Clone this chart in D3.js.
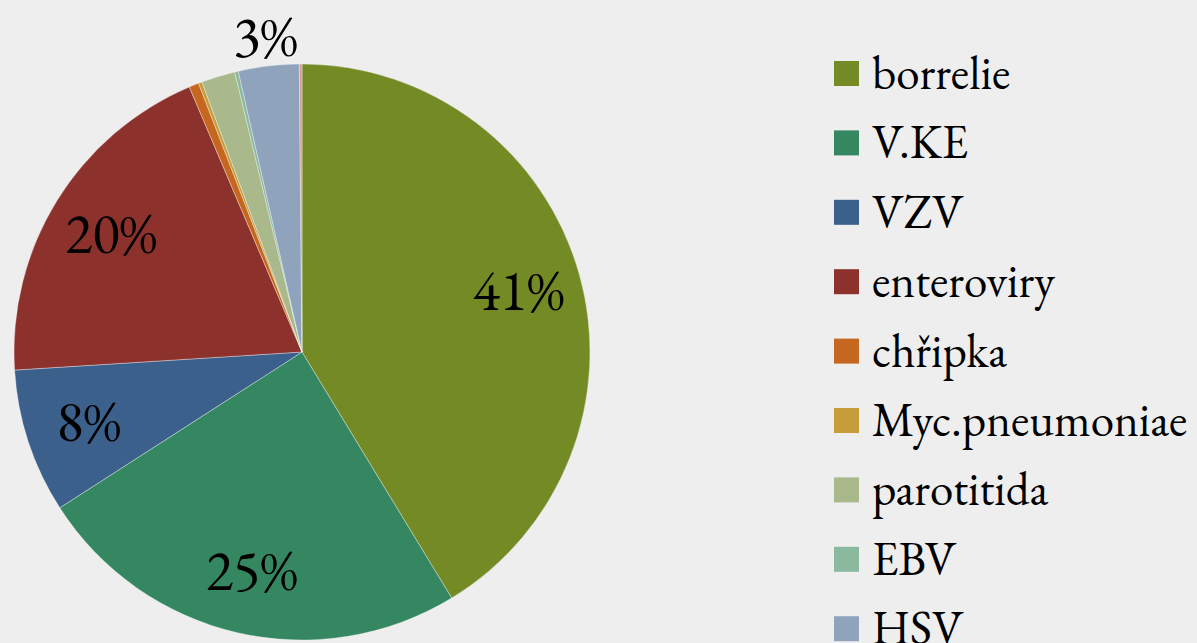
<!DOCTYPE html>
<html>
<head>
    <meta charset="utf-8">
    <title>Pie chart</title>
    <script src="https://cdn.jsdelivr.net/npm/d3@7/dist/d3.min.js"></script>
    <style>
        html, body { margin: 0; padding: 0; background: #eeeeee; }
        svg { display: block; }
    </style>
</head>
<body>
    <div id="container"></div>
    <script>
        // data (percent of total)
        var categories = ["borrelie", "V.KE", "VZV", "enteroviry", "chřipka", "Myc.pneumoniae",
            "parotitida", "EBV", "HSV", "ostatní"];
        var values = [41.3, 24.6, 8.1, 19.6, 0.55, 0.2, 1.9, 0.2, 3.4, 0.15];
        var colors = ["#748a25", "#358761", "#3b608b", "#8c312c", "#c5671f", "#c79d3b",
            "#aab98b", "#8ab9a0", "#8fa3bd", "#d99a98"];
        // which slices carry a label, and whether it sits outside
        var labelShown = [true, true, true, true, false, false, false, false, true, false];
        var labelOutside = [false, false, false, false, false, false, false, false, true, false];

        var width = 1197, height = 643;
        var cx = 302, cy = 352, radius = 288;
        var serif = "'EB Garamond'";

        var svg = d3.select("#container")
            .append("svg")
            .attr("width", width)
            .attr("height", height);

        var data = categories.map(function (c, i) {
            return { name: c, value: values[i], color: colors[i], show: labelShown[i], outside: labelOutside[i] };
        });

        var pie = d3.pie()
            .sort(null)
            .value(function (d) { return d.value; });

        var arc = d3.arc()
            .innerRadius(0)
            .outerRadius(radius);

        var arcs = pie(data);
        var total = d3.sum(values);

        var g = svg.append("g")
            .attr("transform", "translate(" + cx + "," + cy + ")");

        g.selectAll("path")
            .data(arcs)
            .enter()
            .append("path")
            .attr("d", arc)
            .attr("fill", function (d) { return d.data.color; })
            .attr("stroke", "rgba(255,255,255,0.5)")
            .attr("stroke-width", 0.7);

        // labels
        var inArc = d3.arc().innerRadius(radius * 0.78).outerRadius(radius * 0.78);
        var outArc = d3.arc().innerRadius(radius * 1.1).outerRadius(radius * 1.1);

        g.selectAll("text.lbl")
            .data(arcs.filter(function (d) { return d.data.show; }))
            .enter()
            .append("text")
            .attr("class", "lbl")
            .attr("transform", function (d) {
                var p = (d.data.outside ? outArc : inArc).centroid(d);
                return "translate(" + p[0] + "," + p[1] + ")";
            })
            .attr("text-anchor", "middle")
            .attr("dy", "0.33em")
            .style("font-family", serif)
            .style("font-size", "57px")
            .text(function (d) { return Math.round(d.data.value / total * 100) + "%"; });

        // legend (the 10th entry falls below the visible area, as in the original)
        var legY = d3.scalePoint()
            .domain(categories)
            .range([73.5, 73.5 + 69.4 * (categories.length - 1)]);

        var leg = svg.append("g")
            .selectAll("g")
            .data(data.slice(0, 9))
            .enter()
            .append("g")
            .attr("transform", function (d) { return "translate(834," + legY(d.name) + ")"; });

        leg.append("rect")
            .attr("x", 0)
            .attr("y", -12.5)
            .attr("width", 25)
            .attr("height", 25)
            .attr("fill", function (d) { return d.color; });

        leg.append("text")
            .attr("x", 38)
            .attr("dy", "0.33em")
            .style("font-family", serif)
            .style("font-size", "47px")
            .text(function (d) { return d.name; });
    </script>
</body>
</html>
